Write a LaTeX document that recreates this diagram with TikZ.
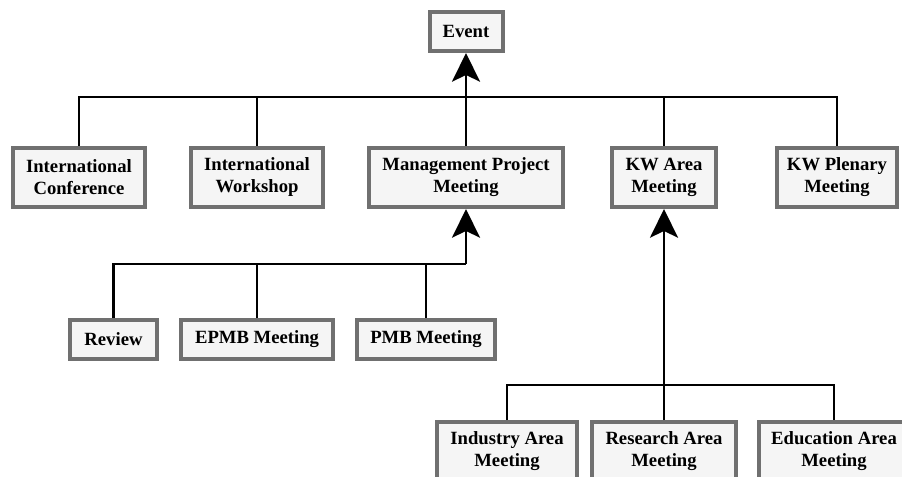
\documentclass[tikz,border=0pt]{standalone}
\usepackage{fontspec}
\setmainfont{Liberation Serif}
\usetikzlibrary{arrows.meta}
\definecolor{boxedge}{HTML}{707070}
\definecolor{boxfill}{HTML}{F5F5F5}
\tikzset{
  evbox/.style={draw=boxedge, fill=boxfill, line width=3pt, rectangle,
    inner sep=0pt, align=center,
    font=\fontsize{14}{16.5}\selectfont\bfseries},
  boxsize/.style 2 args={minimum width=#1*0.75pt, minimum height=#2*0.75pt},
  link/.style={line width=1.8pt, draw=black},
  uparrow/.style={link, -{Stealth[length=21.5pt, width=21pt, inset=5pt]}}
}
\begin{document}
\begin{tikzpicture}[x=0.75pt, y=-0.75pt]
  \useasboundingbox (0,0) rectangle (902,477);
  \clip (0,0) rectangle (902,477);

  % root
  \node[evbox, boxsize={73}{39}] (event) at (466,31.5) {Event};

  % first level
  \node[evbox, boxsize={132}{59}] (ic)  at (79,177.5)  {International\\Conference};
  \node[evbox, boxsize={132}{59}] (iw)  at (257,177.5) {International\\Workshop};
  \node[evbox, boxsize={194}{59}] (mpm) at (466,177.5) {Management Project\\Meeting};
  \node[evbox, boxsize={104}{59}] (kwa) at (664,177.5) {KW Area\\Meeting};
  \node[evbox, boxsize={120}{59}] (kwp) at (837,177.5) {KW Plenary\\Meeting};

  % management meetings
  \node[evbox, boxsize={87}{39}]  (review) at (113.5,339.5) {Review};
  \node[evbox, boxsize={152}{39}] (epmb)   at (257,339.5)   {EPMB Meeting};
  \node[evbox, boxsize={138}{39}] (pmb)    at (426,339.5)   {PMB Meeting};

  % area meetings
  \node[evbox, boxsize={140}{59}] (ind) at (507,451.5) {Industry Area\\Meeting};
  \node[evbox, boxsize={144}{59}] (res) at (664,451.5) {Research Area\\Meeting};
  \node[evbox, boxsize={150}{59}] (edu) at (834,451.5) {Education Area\\Meeting};

  % bus junctions
  \coordinate (topbus) at (466,97);
  \coordinate (mgmtbus) at (466,264);
  \coordinate (areabus) at (664,385);

  % first level tree
  \draw[link] (ic.north) |- (topbus) -| (kwp.north);
  \draw[link] (iw.north) -- (iw.north |- topbus);
  \draw[link] (mpm.north) -- (topbus);
  \draw[link] (kwa.north) -- (kwa.north |- topbus);
  \draw[uparrow] (topbus) -- (event.south);

  % management tree
  \draw[link] (review.north) |- (mgmtbus);
  \draw[link] (epmb.north) -- (epmb.north |- mgmtbus);
  \draw[link] (pmb.north) -- (pmb.north |- mgmtbus);
  \draw[uparrow] (mgmtbus) -- (mpm.south);

  % area tree
  \draw[link] (ind.north) |- (areabus) -| (edu.north);
  \draw[link] (res.north) -- (areabus);
  \draw[uparrow] (areabus) -- (kwa.south);
\end{tikzpicture}
\end{document}
